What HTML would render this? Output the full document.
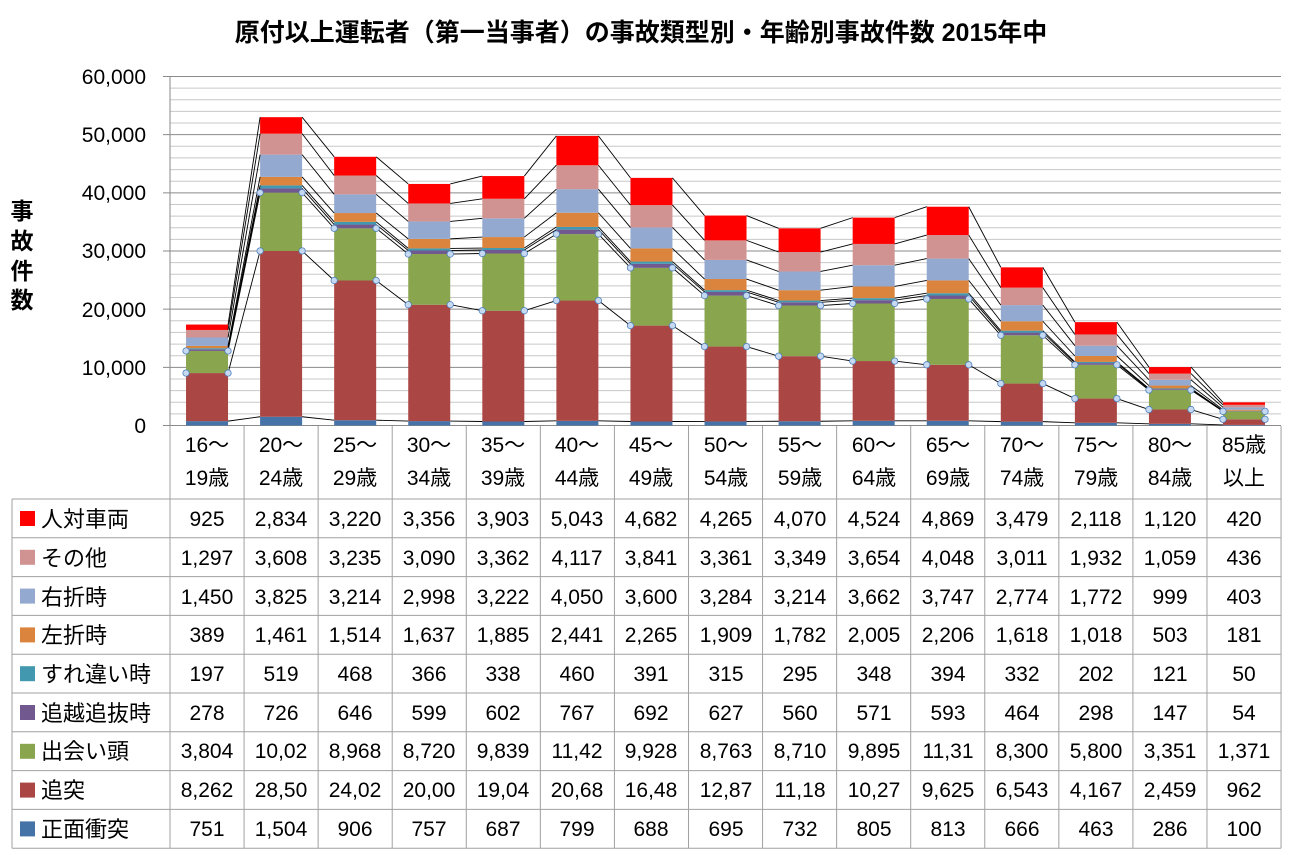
<!DOCTYPE html>
<html><head><meta charset="utf-8">
<style>
html,body{margin:0;padding:0;background:#fff;}
body{width:1289px;height:855px;overflow:hidden;position:relative;font-family:"Liberation Sans","Noto Sans CJK JP",sans-serif;}
svg{position:absolute;left:0;top:0;}
text{font-family:"Liberation Sans","Noto Sans CJK JP",sans-serif;fill:#000;}
</style></head><body>
<svg id="s" width="1289" height="855" xmlns="http://www.w3.org/2000/svg">
<text x="641" y="41" text-anchor="middle" font-size="25" font-weight="bold">原付以上運転者（第一当事者）の事故類型別・年齢別事故件数  2015年中</text>
<g font-size="21" text-anchor="end">
<text x="146" y="84">60,000</text>
<text x="146" y="142">50,000</text>
<text x="146" y="200">40,000</text>
<text x="146" y="258">30,000</text>
<text x="146" y="317">20,000</text>
<text x="146" y="375">10,000</text>
<text x="146" y="433">0</text>
</g>
<g font-size="23" font-weight="bold" text-anchor="middle">
<text x="22" y="219">事</text><text x="22" y="249">故</text><text x="22" y="279">件</text><text x="22" y="308">数</text>
</g>
<g id="grid"></g>
<g id="bars"></g>
<g id="lines"></g>
<g id="tbl"></g>
<g font-size="21" text-anchor="middle" id="hdr">
<text x="207" y="452">16～</text><text x="207" y="485">19歳</text>
<text x="281" y="452">20～</text><text x="281" y="485">24歳</text>
<text x="355" y="452">25～</text><text x="355" y="485">29歳</text>
<text x="429" y="452">30～</text><text x="429" y="485">34歳</text>
<text x="503" y="452">35～</text><text x="503" y="485">39歳</text>
<text x="577" y="452">40～</text><text x="577" y="485">44歳</text>
<text x="651" y="452">45～</text><text x="651" y="485">49歳</text>
<text x="726" y="452">50～</text><text x="726" y="485">54歳</text>
<text x="800" y="452">55～</text><text x="800" y="485">59歳</text>
<text x="874" y="452">60～</text><text x="874" y="485">64歳</text>
<text x="948" y="452">65～</text><text x="948" y="485">69歳</text>
<text x="1022" y="452">70～</text><text x="1022" y="485">74歳</text>
<text x="1096" y="452">75～</text><text x="1096" y="485">79歳</text>
<text x="1170" y="452">80～</text><text x="1170" y="485">84歳</text>
<text x="1244" y="452">85歳</text><text x="1244" y="485">以上</text>
</g>
<g font-size="22">
<text x="41" y="527">人対車両</text>
<text x="41" y="566">その他</text>
<text x="41" y="605">右折時</text>
<text x="41" y="643">左折時</text>
<text x="41" y="682">すれ違い時</text>
<text x="41" y="721">追越追抜時</text>
<text x="41" y="759">出会い頭</text>
<text x="41" y="798">追突</text>
<text x="41" y="837">正面衝突</text>
</g>
<g font-size="21" text-anchor="middle" id="nums">
<text y="526"><tspan x="207">925</tspan><tspan x="281">2,834</tspan><tspan x="355">3,220</tspan><tspan x="429">3,356</tspan><tspan x="503">3,903</tspan><tspan x="577">5,043</tspan><tspan x="651">4,682</tspan><tspan x="726">4,265</tspan><tspan x="800">4,070</tspan><tspan x="874">4,524</tspan><tspan x="948">4,869</tspan><tspan x="1022">3,479</tspan><tspan x="1096">2,118</tspan><tspan x="1170">1,120</tspan><tspan x="1244">420</tspan></text>
<text y="565"><tspan x="207">1,297</tspan><tspan x="281">3,608</tspan><tspan x="355">3,235</tspan><tspan x="429">3,090</tspan><tspan x="503">3,362</tspan><tspan x="577">4,117</tspan><tspan x="651">3,841</tspan><tspan x="726">3,361</tspan><tspan x="800">3,349</tspan><tspan x="874">3,654</tspan><tspan x="948">4,048</tspan><tspan x="1022">3,011</tspan><tspan x="1096">1,932</tspan><tspan x="1170">1,059</tspan><tspan x="1244">436</tspan></text>
<text y="604"><tspan x="207">1,450</tspan><tspan x="281">3,825</tspan><tspan x="355">3,214</tspan><tspan x="429">2,998</tspan><tspan x="503">3,222</tspan><tspan x="577">4,050</tspan><tspan x="651">3,600</tspan><tspan x="726">3,284</tspan><tspan x="800">3,214</tspan><tspan x="874">3,662</tspan><tspan x="948">3,747</tspan><tspan x="1022">2,774</tspan><tspan x="1096">1,772</tspan><tspan x="1170">999</tspan><tspan x="1244">403</tspan></text>
<text y="642"><tspan x="207">389</tspan><tspan x="281">1,461</tspan><tspan x="355">1,514</tspan><tspan x="429">1,637</tspan><tspan x="503">1,885</tspan><tspan x="577">2,441</tspan><tspan x="651">2,265</tspan><tspan x="726">1,909</tspan><tspan x="800">1,782</tspan><tspan x="874">2,005</tspan><tspan x="948">2,206</tspan><tspan x="1022">1,618</tspan><tspan x="1096">1,018</tspan><tspan x="1170">503</tspan><tspan x="1244">181</tspan></text>
<text y="681"><tspan x="207">197</tspan><tspan x="281">519</tspan><tspan x="355">468</tspan><tspan x="429">366</tspan><tspan x="503">338</tspan><tspan x="577">460</tspan><tspan x="651">391</tspan><tspan x="726">315</tspan><tspan x="800">295</tspan><tspan x="874">348</tspan><tspan x="948">394</tspan><tspan x="1022">332</tspan><tspan x="1096">202</tspan><tspan x="1170">121</tspan><tspan x="1244">50</tspan></text>
<text y="720"><tspan x="207">278</tspan><tspan x="281">726</tspan><tspan x="355">646</tspan><tspan x="429">599</tspan><tspan x="503">602</tspan><tspan x="577">767</tspan><tspan x="651">692</tspan><tspan x="726">627</tspan><tspan x="800">560</tspan><tspan x="874">571</tspan><tspan x="948">593</tspan><tspan x="1022">464</tspan><tspan x="1096">298</tspan><tspan x="1170">147</tspan><tspan x="1244">54</tspan></text>
<text y="758"><tspan x="207">3,804</tspan><tspan x="281">10,02</tspan><tspan x="355">8,968</tspan><tspan x="429">8,720</tspan><tspan x="503">9,839</tspan><tspan x="577">11,42</tspan><tspan x="651">9,928</tspan><tspan x="726">8,763</tspan><tspan x="800">8,710</tspan><tspan x="874">9,895</tspan><tspan x="948">11,31</tspan><tspan x="1022">8,300</tspan><tspan x="1096">5,800</tspan><tspan x="1170">3,351</tspan><tspan x="1244">1,371</tspan></text>
<text y="797"><tspan x="207">8,262</tspan><tspan x="281">28,50</tspan><tspan x="355">24,02</tspan><tspan x="429">20,00</tspan><tspan x="503">19,04</tspan><tspan x="577">20,68</tspan><tspan x="651">16,48</tspan><tspan x="726">12,87</tspan><tspan x="800">11,18</tspan><tspan x="874">10,27</tspan><tspan x="948">9,625</tspan><tspan x="1022">6,543</tspan><tspan x="1096">4,167</tspan><tspan x="1170">2,459</tspan><tspan x="1244">962</tspan></text>
<text y="836"><tspan x="207">751</tspan><tspan x="281">1,504</tspan><tspan x="355">906</tspan><tspan x="429">757</tspan><tspan x="503">687</tspan><tspan x="577">799</tspan><tspan x="651">688</tspan><tspan x="726">695</tspan><tspan x="800">732</tspan><tspan x="874">805</tspan><tspan x="948">813</tspan><tspan x="1022">666</tspan><tspan x="1096">463</tspan><tspan x="1170">286</tspan><tspan x="1244">100</tspan></text>
</g>
</svg>
<script>
var NS="http://www.w3.org/2000/svg";
function el(p,t,a){var e=document.createElementNS(NS,t);for(var k in a)e.setAttribute(k,a[k]);document.getElementById(p).appendChild(e);return e;}
var colors=["#4572A7","#AA4643","#89A54E","#71588F","#4198AF","#DB843D","#93A9CF","#D19392","#FF0000"];
var D=[
[751,1504,906,757,687,799,688,695,732,805,813,666,463,286,100],
[8262,28505,24025,20005,19045,20685,16485,12875,11185,10275,9625,6543,4167,2459,962],
[3804,10025,8968,8720,9839,11425,9928,8763,8710,9895,11315,8300,5800,3351,1371],
[278,726,646,599,602,767,692,627,560,571,593,464,298,147,54],
[197,519,468,366,338,460,391,315,295,348,394,332,202,121,50],
[389,1461,1514,1637,1885,2441,2265,1909,1782,2005,2206,1618,1018,503,181],
[1450,3825,3214,2998,3222,4050,3600,3284,3214,3662,3747,2774,1772,999,403],
[1297,3608,3235,3090,3362,4117,3841,3361,3349,3654,4048,3011,1932,1059,436],
[925,2834,3220,3356,3903,5043,4682,4265,4070,4524,4869,3479,2118,1120,420]];
var X0=170,CW=74.07,Y0=425.5,SC=349/60000,BW=42;
function Y(v){return Y0-v*SC;}
for(var v=2000;v<=60000;v+=2000){var maj=v%10000==0;el("grid","line",{x1:maj?163:X0,x2:1281,y1:Y(v),y2:Y(v),stroke:maj?"#8a8a8a":"#c8c8c8","stroke-width":1});}
el("grid","line",{x1:163,x2:1281,y1:Y0,y2:Y0,stroke:"#8a8a8a"});
el("grid","line",{x1:X0,x2:X0,y1:Y(60000),y2:Y0,stroke:"#8a8a8a"});
var cum=[];
for(var i=0;i<15;i++){var c=0;cum[i]=[0];var cx=X0+CW*(i+0.5);
 for(var s=0;s<9;s++){var v=D[s][i];el("bars","rect",{x:cx-BW/2,y:Y(c+v),width:BW,height:v*SC,fill:colors[s]});c+=v;cum[i].push(c);}}
for(var i=0;i<14;i++){var xa=X0+CW*(i+0.5)+BW/2,xb=X0+CW*(i+1.5)-BW/2;
 for(var s=1;s<=9;s++)el("lines","line",{x1:xa,x2:xb,y1:Y(cum[i][s]),y2:Y(cum[i+1][s]),stroke:"#000","stroke-width":0.9});}
for(var i=0;i<15;i++){var cx=X0+CW*(i+0.5);
 [2,3].forEach(function(s){[cx-BW/2,cx+BW/2].forEach(function(x){el("lines","circle",{cx:x,cy:Y(cum[i][s]),r:3.2,fill:"#c6d9f1",stroke:"#4f81bd","stroke-width":0.8});});});}
var TC="#a0a0a0",R0=499,RH=38.8;
for(var k=0;k<=9;k++)el("tbl","line",{x1:12,x2:1281,y1:R0+k*RH,y2:R0+k*RH,stroke:TC});
el("tbl","line",{x1:12,x2:12,y1:R0,y2:R0+9*RH,stroke:TC});
for(var j=0;j<=15;j++)el("tbl","line",{x1:X0+j*CW,x2:X0+j*CW,y1:426,y2:R0+9*RH,stroke:TC});
for(var k=0;k<9;k++)el("tbl","rect",{x:20,y:R0+k*RH+12,width:15,height:15,fill:colors[8-k]});
</script>
</body></html>
